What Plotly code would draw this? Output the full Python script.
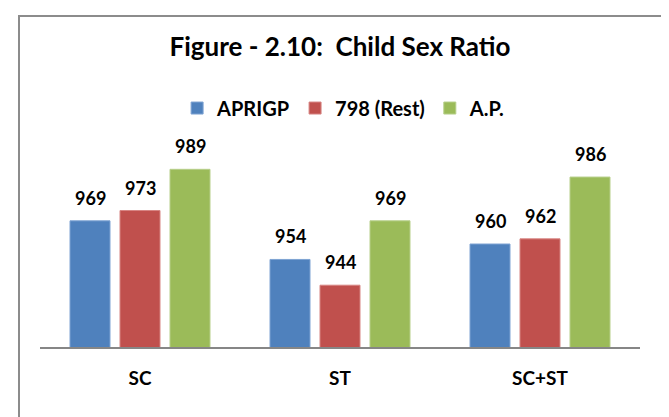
import plotly.graph_objects as go

categories = ["SC", "ST", "SC+ST"]
series_names = ["APRIGP", "798 (Rest)", "A.P."]
aprigp = [969, 954, 960]
rest798 = [973, 944, 962]
ap = [989, 969, 986]
colors = ["#4F81BD", "#C0504D", "#9BBB59"]
edge_colors = ["#7EA3D3", "#D78583", "#B7CF8A"]

series_values = [aprigp, rest798, ap]
FONT = "Lato"

fig = go.Figure()
for name, vals, col, ec in zip(series_names, series_values, colors, edge_colors):
    fig.add_trace(go.Bar(
        x=categories, y=vals, name=f"<b>{name}</b>",
        marker=dict(color=col, line=dict(color=ec, width=1)),
        hoverinfo="skip",
    ))

# value labels above bars
n_series = len(series_values)
slot = (1 - 0.25) / n_series
for j, vals in enumerate(series_values):
    for i, v in enumerate(vals):
        fig.add_annotation(
            x=i + (j - (n_series - 1) / 2) * slot, y=v, xref="x", yref="y",
            text=f"<b>{v}</b>", showarrow=False, yanchor="bottom", yshift=10,
            font=dict(family=FONT, size=18, color="#000000"),
        )

W, H = 669, 417
L, T, PW, PH = 32, 133, 600, 206
fig.update_layout(
    width=W, height=H,
    margin=dict(l=L, r=W - L - PW, t=T, b=H - T - PH, autoexpand=False),
    paper_bgcolor="white", plot_bgcolor="white",
    barmode="group", bargap=0.25, bargroupgap=0.2,
    title=dict(
        text="<b>Figure - 2.10:  Child Sex Ratio</b>",
        x=0.5, xref="paper", xanchor="center",
        y=1 - 39 / H, yref="container", yanchor="middle",
        font=dict(family=FONT, size=26, color="#000000"),
    ),
    legend=dict(
        orientation="h", x=0.506, xanchor="center", xref="paper",
        y=1.16, yanchor="middle",
        font=dict(family=FONT, size=20, color="#000000"),
        itemclick=False, itemdoubleclick=False,
        traceorder="normal",
    ),
    showlegend=True,
    font=dict(family=FONT, color="#000000"),
)

fig.update_xaxes(
    showline=True, linecolor="#868686", linewidth=2,
    showgrid=False, zeroline=False, ticks="", automargin=False,
    tickfont=dict(family=FONT, size=19, color="#000000"),
    ticktext=[f"<b>{c}</b>" for c in categories], tickvals=categories,
    ticklabelstandoff=13,
)
fig.update_yaxes(
    range=[920, 1000], visible=False, showgrid=False, zeroline=False,
)

# chart frame (open at the bottom, as in the reference)
fig.add_shape(
    type="rect", xref="paper", yref="paper",
    x0=(11 - L) / PW, x1=(668 - L) / PW,
    y0=-(H - T - PH + 20) / PH, y1=1 + (T - 8) / PH,
    line=dict(color="#8C8C8C", width=2), fillcolor="rgba(0,0,0,0)", layer="below",
)

fig.write_html("out.html")
